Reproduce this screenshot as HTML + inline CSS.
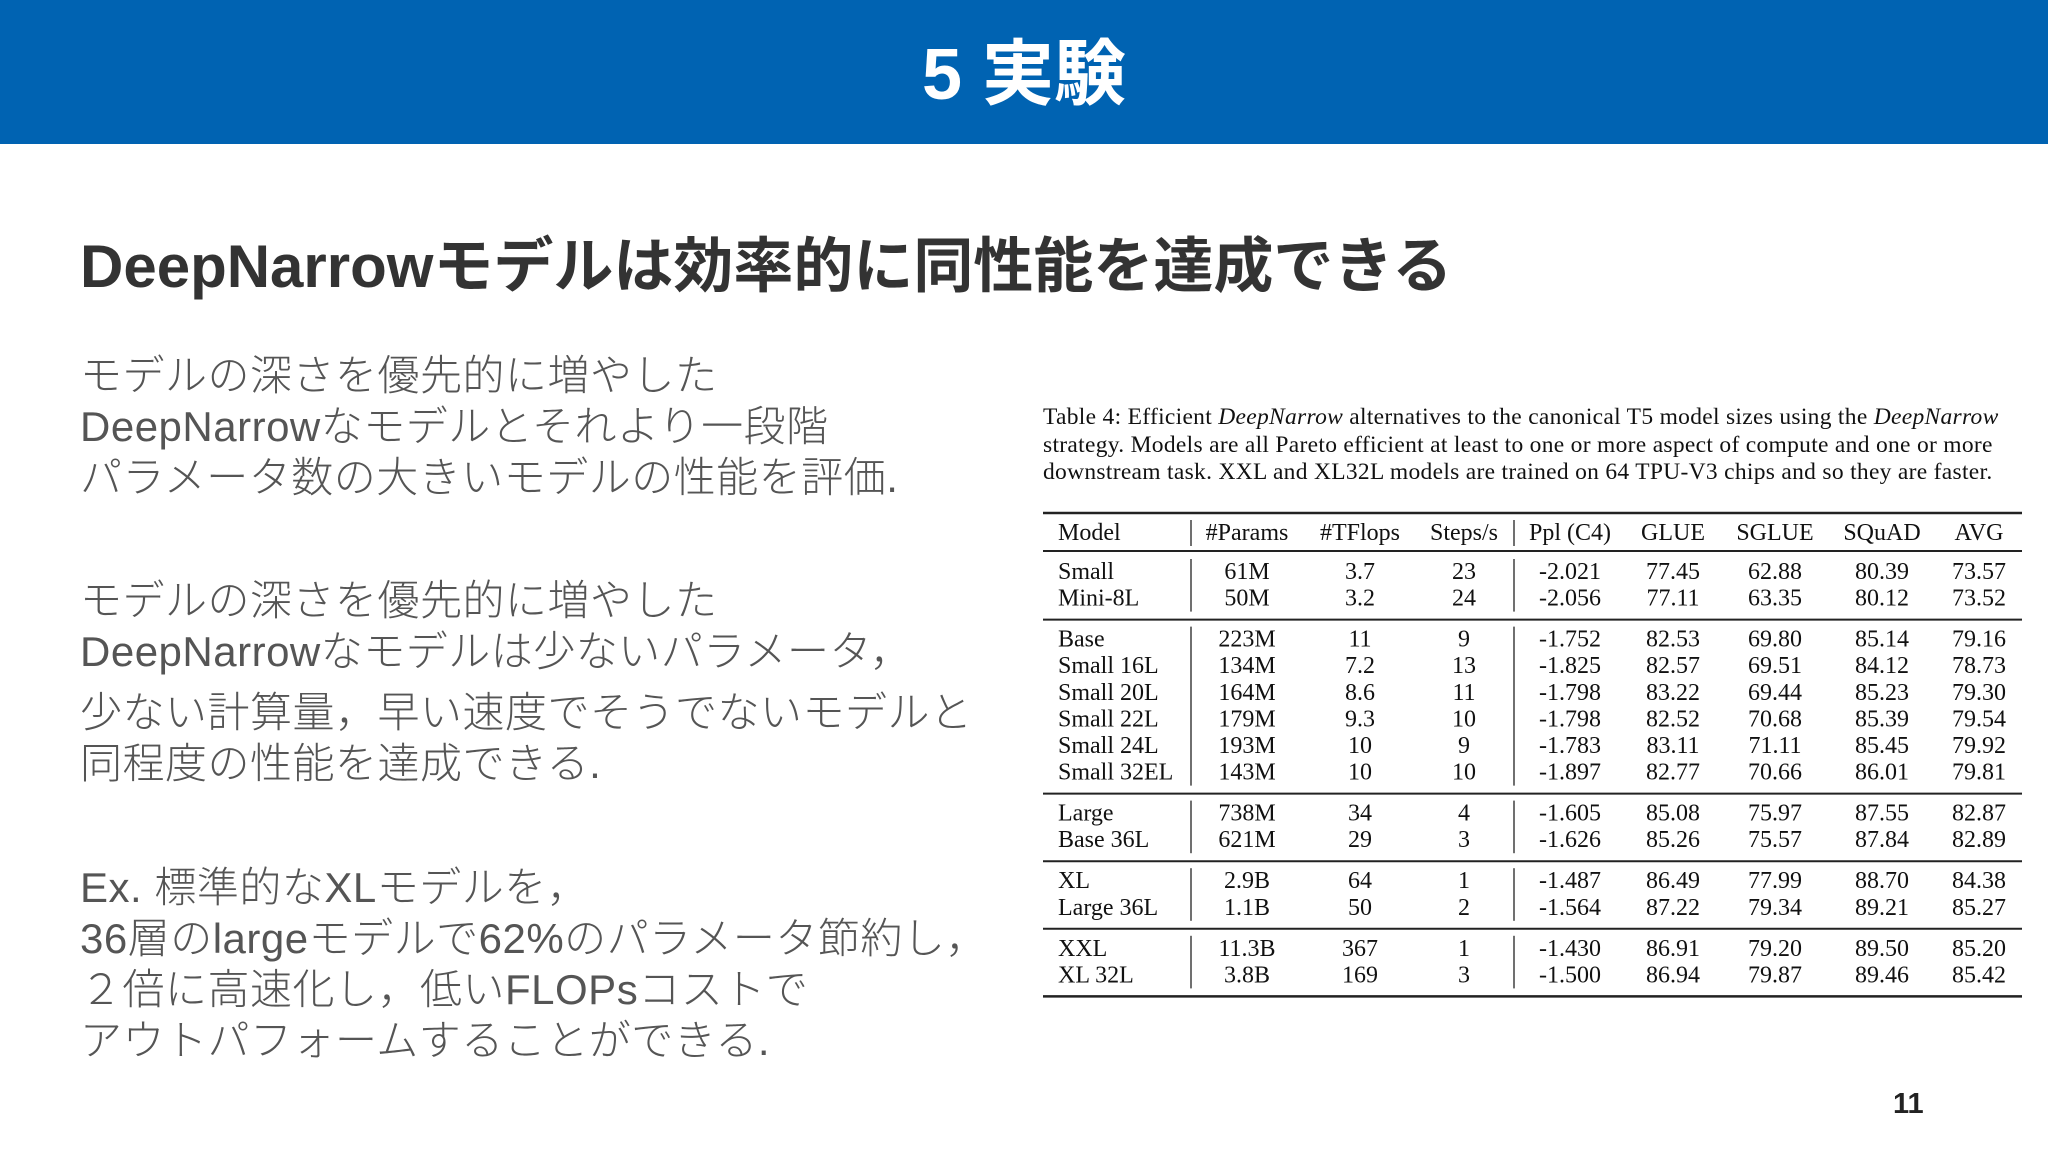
<!DOCTYPE html>
<html><head><meta charset="utf-8">
<style>
body{margin:0;width:2048px;height:1152px;background:#fff;position:relative;overflow:hidden;font-family:"Liberation Sans","Noto Sans CJK JP",sans-serif}
.hdr{position:absolute;left:0;top:0;width:2048px;height:144px;background:#0063b2}
.title{position:absolute;left:0;top:0;width:2048px;line-height:150px;text-align:center;color:#fff;font-weight:bold;font-size:72px}
.h2{position:absolute;left:80px;top:232px;font-size:60px;font-weight:bold;color:#333;white-space:nowrap;line-height:70px}
.p{position:absolute;left:80px;font-size:42px;color:#555;white-space:nowrap;line-height:51px;letter-spacing:0.5px;font-weight:300}
.pg{position:absolute;left:1893px;top:1088px;font-size:29px;font-weight:bold;color:#222}
.cap{position:absolute;left:1043px;top:404px;width:975px;font-family:"Liberation Serif",serif;font-size:23.5px;letter-spacing:0.3px;line-height:27.5px;color:#111;white-space:nowrap}
svg text{font-family:"Liberation Serif",serif;font-size:24px;fill:#111}
</style></head><body>
<div class="hdr"></div>
<div class="title">5 実験</div>
<div class="h2">DeepNarrowモデルは効率的に同性能を達成できる</div>
<div class="p" style="top:350px">モデルの深さを優先的に増やした<br>DeepNarrowなモデルとそれより一段階<br>パラメータ数の大きいモデルの性能を評価.</div>
<div class="p" style="top:575px">モデルの深さを優先的に増やした<br>DeepNarrowなモデルは少ないパラメータ，</div>
<div class="p" style="top:687px">少ない計算量，早い速度でそうでないモデルと<br>同程度の性能を達成できる.</div>
<div class="p" style="top:862px">Ex. 標準的なXLモデルを，<br>36層のlargeモデルで62%のパラメータ節約し，<br>２倍に高速化し，低いFLOPsコストで<br>アウトパフォームすることができる.</div>
<div class="pg">11</div>
<div class="cap">Table 4: Efficient <i>DeepNarrow</i> alternatives to the canonical T5 model sizes using the <i>DeepNarrow</i><br>strategy. Models are all Pareto efficient at least to one or more aspect of compute and one or more<br>downstream task. XXL and XL32L models are trained on 64 TPU-V3 chips and so they are faster.</div>
<svg id="tbl" style="position:absolute;left:0;top:0" width="2048" height="1152"></svg>
<script>
const headers=["Model","#Params","#TFlops","Steps/s","Ppl (C4)","GLUE","SGLUE","SQuAD","AVG"];
const groups=[2,6,2,2,2];
const models=["Small","Mini-8L","Base","Small 16L","Small 20L","Small 22L","Small 24L","Small 32EL","Large","Base 36L","XL","Large 36L","XXL","XL 32L"];
const params=["61M","50M","223M","134M","164M","179M","193M","143M","738M","621M","2.9B","1.1B","11.3B","3.8B"];
const tflops=["3.7","3.2","11","7.2","8.6","9.3","10","10","34","29","64","50","367","169"];
const steps=["23","24","9","13","11","10","9","10","4","3","1","2","1","3"];
const ppl=["-2.021","-2.056","-1.752","-1.825","-1.798","-1.798","-1.783","-1.897","-1.605","-1.626","-1.487","-1.564","-1.430","-1.500"];
const glue=["77.45","77.11","82.53","82.57","83.22","82.52","83.11","82.77","85.08","85.26","86.49","87.22","86.91","86.94"];
const sglue=["62.88","63.35","69.80","69.51","69.44","70.68","71.11","70.66","75.97","75.57","77.99","79.34","79.20","79.87"];
const squad=["80.39","80.12","85.14","84.12","85.23","85.39","85.45","86.01","87.55","87.84","88.70","89.21","89.50","89.46"];
const avg=["73.57","73.52","79.16","78.73","79.30","79.54","79.92","79.81","82.87","82.89","84.38","85.27","85.20","85.42"];
const svg=document.getElementById('tbl');const NS="http://www.w3.org/2000/svg";
const colX=[1058,1247,1360,1464,1570,1673,1775,1882,1979];
function line(x1,y1,x2,y2,w,n){const l=document.createElementNS(NS,'line');l.setAttribute('x1',x1);l.setAttribute('y1',y1);l.setAttribute('x2',x2);l.setAttribute('y2',y2);l.setAttribute('stroke','#222');l.setAttribute('stroke-width',w);


svg.appendChild(l);}
function txt(x,y,s,anchor,n){const t=document.createElementNS(NS,'text');t.setAttribute('x',x);t.setAttribute('y',y);t.setAttribute('text-anchor',anchor);t.setAttribute('dominant-baseline','central');t.textContent=s;


svg.appendChild(t);}
line(1043,513,2022,513,2.5,'table-top-rule');
headers.forEach((h,i)=>txt(colX[i],533,h,i==0?'start':'middle','header-cell'));
line(1043,551,2022,551,2,'header-rule');
line(1191,520,1191,546,1.3,'header-divider');line(1514,520,1514,546,1.3,'header-divider');
const cols=[models,params,tflops,steps,ppl,glue,sglue,squad,avg];
let y=572,r=0;
groups.forEach((g,gi)=>{const y0=y;
 for(let k=0;k<g;k++){cols.forEach((c,i)=>txt(colX[i],y,c[r],i==0?'start':'middle','table-cell'));r++;y+=26.6;}
 const yb=y-26.6;
 line(1191,y0-13,1191,yb+13,1.3,'group-divider');line(1514,y0-13,1514,yb+13,1.3,'group-divider');
 const ry=yb+21;
 line(1043,ry,2022,ry,gi==groups.length-1?2.5:2,'group-rule');
 y=ry+20;
});
</script>
</body></html>
